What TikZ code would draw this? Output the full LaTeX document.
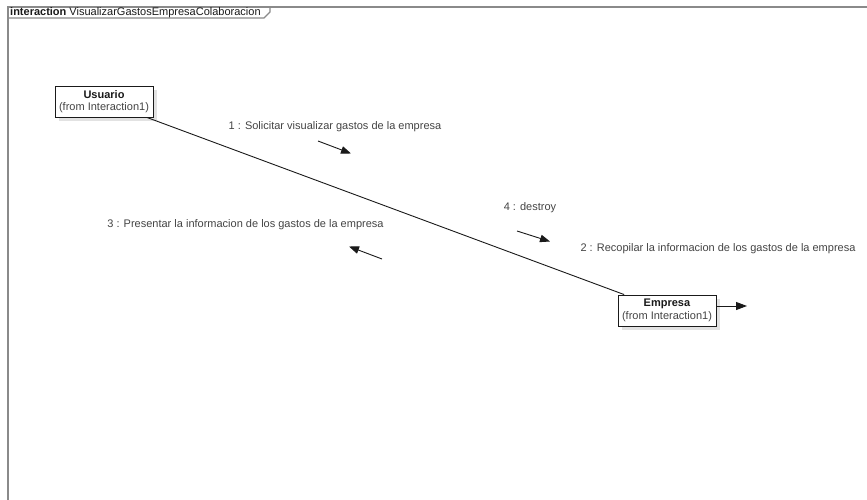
\documentclass[tikz,border=0pt]{standalone}
\usepackage{fontspec}
\setmainfont{Liberation Sans}
\usetikzlibrary{arrows.meta, positioning, shadows}
\definecolor{umlFrame}{HTML}{8A8A8A}
\definecolor{umlText}{HTML}{444444}
\definecolor{umlLine}{HTML}{1A1A1A}
\definecolor{umlShadow}{HTML}{E2E2E2}
\tikzset{
  umlobj/.style={rectangle, draw=umlLine, line width=0.9pt, fill=white,
    minimum width=98pt, minimum height=31pt, inner sep=1pt, align=center,
    font=\fontsize{11}{12.5}\selectfont, text=umlLine,
    drop shadow={shadow xshift=4pt, shadow yshift=-4pt, fill=umlShadow, opacity=1}},
  msglabel/.style={font=\fontsize{11}{13}\selectfont, text=umlText, inner sep=0pt},
  msgarrow/.style={-{Triangle[length=10pt, width=7.5pt]}, line width=0.9pt, umlLine},
  umllink/.style={line width=0.9pt, umlLine},
  frameline/.style={line width=1.3pt, umlFrame}
}
\newcommand{\fromtag}{{\color{umlText}(from Interaction1)}}
\begin{document}
\begin{tikzpicture}[x=1pt, y=-1pt]
  \useasboundingbox[fill=white] (0,0) rectangle (867,500);
  \draw[frameline] (867,7) -- (8,7) -- (8,500);
  \draw[frameline] (8,18) -- (264,18) -- (270,12) -- (270,7);
  \node[anchor=west, inner sep=0pt, font=\fontsize{11}{13}\selectfont, text=umlLine]
    (title) at (10,13) {\textbf{interaction} VisualizarGastosEmpresaColaboracion};

  \node[umlobj] (usuario) at (104,101.5) {\textbf{Usuario}\\\fromtag};
  \node[umlobj] (empresa) at (667,310.5) {\textbf{Empresa}\\\fromtag};
  \draw[umllink] (usuario) -- (empresa);

  \coordinate (selfEnd) at (747,306);
  \draw[-{Triangle[length=11pt, width=8pt]}, line width=0.9pt, umlLine]
    (empresa.east |- selfEnd) -- (selfEnd);

  \node[msglabel] (lbl1) at (335,127) {1 : Solicitar visualizar gastos de la empresa};
  \node[msglabel] (lbl3) at (245.5,225) {3 : Presentar la informacion de los gastos de la empresa};
  \node[msglabel] (lbl4) at (530,208) {4 : destroy};
  \node[msglabel] (lbl2) at (718,249) {2 : Recopilar la informacion de los gastos de la empresa};

  \coordinate (m1a) at (318,141);
  \coordinate (m1b) at (351,153.5);
  \coordinate (m3a) at (382,259);
  \coordinate (m3b) at (349,246.5);
  \coordinate (m4a) at (517,231);
  \coordinate (m4b) at (550,241.5);
  \draw[msgarrow] (m1a) -- (m1b);
  \draw[msgarrow] (m3a) -- (m3b);
  \draw[msgarrow] (m4a) -- (m4b);
\end{tikzpicture}
\end{document}
